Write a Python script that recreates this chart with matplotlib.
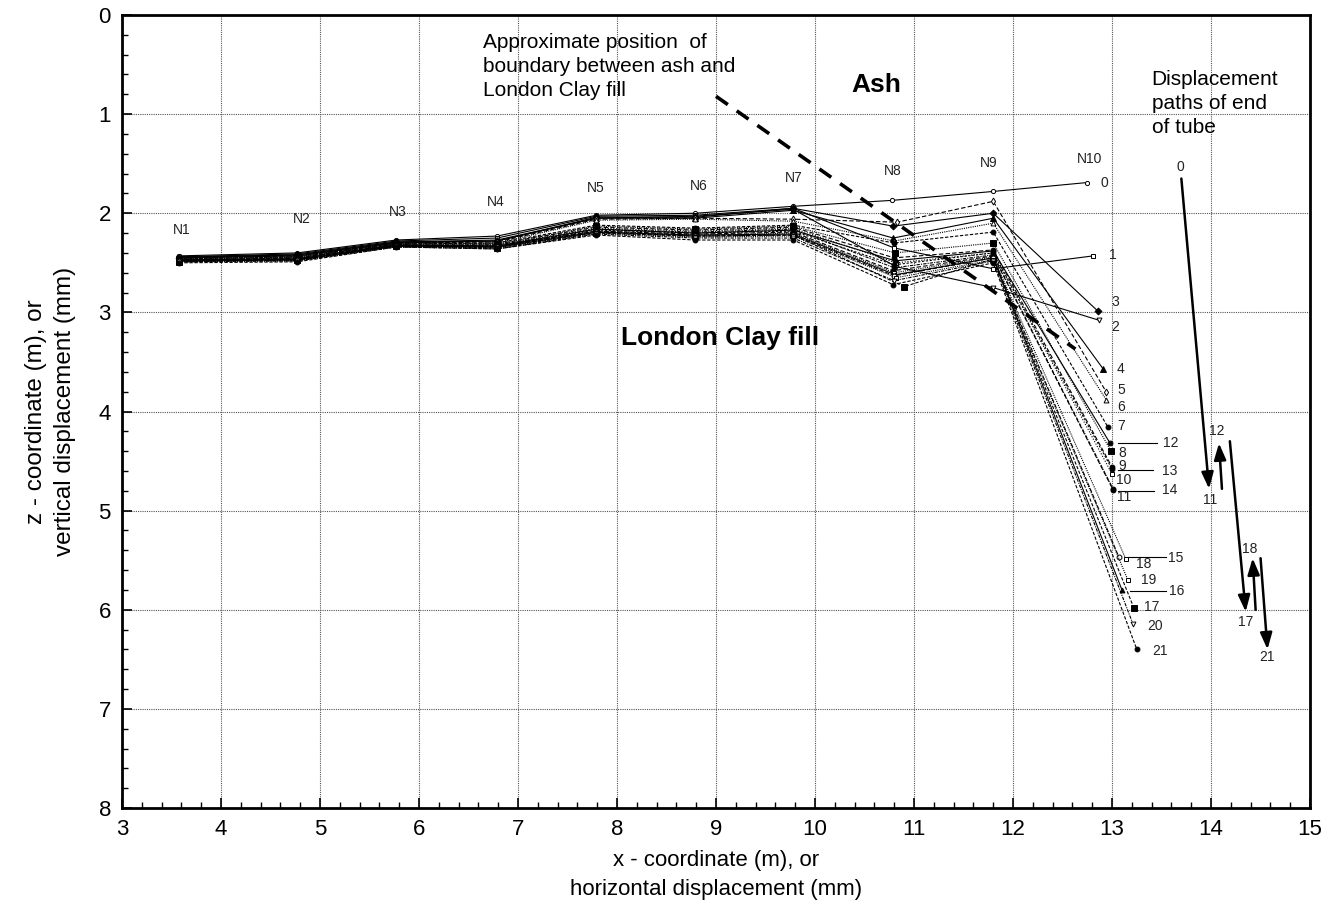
import matplotlib
matplotlib.use("Agg")
import matplotlib.pyplot as plt
from matplotlib.ticker import MultipleLocator

plt.rcParams['font.family'] = ['Liberation Sans', 'DejaVu Sans']

# ---------------- data ----------------
node_names = ["N1", "N2", "N3", "N4", "N5", "N6", "N7", "N8", "N9", "N10"]
node_x = [3.58, 4.77, 5.77, 6.79, 7.79, 8.79, 9.78, 10.80, 11.80]
node_label_x = [3.60, 4.82, 5.79, 6.78, 7.79, 8.83, 9.79, 10.79, 11.75, 12.77]
node_label_y = [2.17, 2.06, 1.99, 1.89, 1.75, 1.73, 1.64, 1.57, 1.49, 1.45]

series_ids = list(range(22))
x_n8 = [10.78, 10.80, 10.82, 10.79, 10.79, 10.83, 10.80, 10.80, 10.81, 10.80, 10.82,
        10.80, 10.81, 10.80, 10.79, 10.80, 10.81, 10.90, 10.80, 10.82, 10.80, 10.79]
x_end = [12.75, 12.81, 12.87, 12.86, 12.91, 12.94, 12.94, 12.96, 12.99, 13.00, 13.00,
         13.01, 12.98, 13.00, 13.01, 13.14, 13.10, 13.22, 13.07, 13.16, 13.21, 13.25]
s0 = [2.43, 2.40, 2.27, 2.23, 2.02, 2.00, 1.93, 1.87, 1.78, 1.69]
s1 = [2.44, 2.41, 2.28, 2.25, 2.03, 2.02, 1.95, 2.35, 2.56, 2.43]
s2 = [2.44, 2.42, 2.29, 2.27, 2.05, 2.03, 1.96, 2.54, 2.75, 3.08]
s3 = [2.45, 2.42, 2.29, 2.28, 2.04, 2.04, 1.95, 2.13, 2.00, 2.99]
s4 = [2.45, 2.43, 2.30, 2.28, 2.05, 2.05, 1.97, 2.25, 2.05, 3.57]
s5 = [2.45, 2.43, 2.30, 2.29, 2.06, 2.05, 2.06, 2.09, 1.88, 3.80]
s6 = [2.46, 2.44, 2.30, 2.30, 2.07, 2.06, 2.08, 2.28, 2.10, 3.88]
s7 = [2.46, 2.44, 2.31, 2.30, 2.12, 2.15, 2.12, 2.30, 2.19, 4.16]
s8 = [2.46, 2.44, 2.31, 2.31, 2.13, 2.16, 2.13, 2.40, 2.30, 4.40]
s9 = [2.47, 2.45, 2.31, 2.31, 2.14, 2.17, 2.14, 2.45, 2.37, 4.56]
s10 = [2.47, 2.45, 2.32, 2.32, 2.15, 2.18, 2.15, 2.50, 2.40, 4.63]
s11 = [2.47, 2.45, 2.32, 2.32, 2.16, 2.19, 2.16, 2.55, 2.42, 4.78]
s12 = [2.47, 2.46, 2.32, 2.33, 2.16, 2.20, 2.17, 2.48, 2.38, 4.32]
s13 = [2.48, 2.46, 2.32, 2.33, 2.17, 2.20, 2.18, 2.52, 2.40, 4.58]
s14 = [2.48, 2.46, 2.33, 2.33, 2.18, 2.21, 2.19, 2.58, 2.43, 4.79]
s15 = [2.48, 2.47, 2.33, 2.34, 2.18, 2.22, 2.20, 2.60, 2.44, 5.49]
s16 = [2.48, 2.47, 2.33, 2.34, 2.19, 2.22, 2.21, 2.62, 2.45, 5.80]
s17 = [2.49, 2.47, 2.33, 2.35, 2.20, 2.23, 2.22, 2.74, 2.46, 5.98]
s18 = [2.48, 2.47, 2.33, 2.34, 2.19, 2.23, 2.22, 2.63, 2.45, 5.47]
s19 = [2.49, 2.48, 2.34, 2.35, 2.20, 2.24, 2.23, 2.65, 2.47, 5.70]
s20 = [2.49, 2.48, 2.34, 2.36, 2.21, 2.25, 2.25, 2.68, 2.48, 6.14]
s21 = [2.50, 2.49, 2.34, 2.36, 2.22, 2.27, 2.27, 2.72, 2.50, 6.40]
series_y = [s0, s1, s2, s3, s4, s5, s6, s7, s8, s9, s10, s11, s12, s13, s14,
            s15, s16, s17, s18, s19, s20, s21]

# end labels (series id text, position)
end_label_text = ["0", "1", "3", "2", "4", "5", "6", "7", "8", "9", "10", "11",
                  "12", "13", "14", "15", "18", "19", "16", "17", "20", "21"]
end_label_x = [12.92, 13.01, 13.03, 13.03, 13.09, 13.09, 13.09, 13.09, 13.10, 13.10, 13.12, 13.12,
               13.59, 13.58, 13.58, 13.64, 13.32, 13.37, 13.65, 13.40, 13.43, 13.48]
end_label_y = [1.69, 2.42, 2.90, 3.15, 3.57, 3.78, 3.95, 4.15, 4.42, 4.55, 4.69, 4.86,
               4.32, 4.60, 4.79, 5.48, 5.54, 5.70, 5.81, 5.97, 6.16, 6.42]
# leader lines for labels 12, 13, 14, 15, 16
leader_x0 = [13.06, 13.06, 13.06, 13.15, 13.18]
leader_x1 = [13.45, 13.41, 13.42, 13.54, 13.54]
leader_y = [4.32, 4.59, 4.80, 5.47, 5.81]

# displacement paths of end of tube (arrows)
path_x0 = [13.70, 14.11, 14.19, 14.45, 14.50]
path_y0 = [1.65, 4.78, 4.30, 6.00, 5.48]
path_x1 = [13.98, 14.08, 14.35, 14.42, 14.57]
path_y1 = [4.78, 4.32, 6.02, 5.48, 6.40]
path_label_text = ["0", "11", "12", "17", "18", "21"]
path_label_x = [13.69, 13.99, 14.06, 14.35, 14.39, 14.57]
path_label_y = [1.53, 4.89, 4.20, 6.12, 5.39, 6.48]

# approximate ash / clay boundary
boundary_x = [9.00, 12.63]
boundary_y = [0.82, 3.37]

# ---------------- styles ----------------
markers = ['o', 's', 'v', 'D', '^', 'd', '^', 'o', 's', 'o', 's', 'o',
           'o', 'o', 'o', 's', '^', 's', 'o', 's', 'v', 'o']
filled = [False, False, False, True, True, False, False, True, True, True, False, True,
          True, True, True, False, True, True, False, False, False, True]
lstyles = ['-', '-', '-', '-', '-', (0, (4, 2)), (0, (1, 1)), (0, (3, 1.5)), (0, (1, 1)),
           (0, (4, 2)), (0, (1, 1.5)), (0, (3, 1, 1, 1)), '-', (0, (2, 1.5)), (0, (4, 2)),
           (0, (1, 1)), '-', (0, (3, 1.5)), (0, (4, 1.5)), (0, (1, 1)), (0, (3, 1, 1, 1)),
           (0, (3, 1.5))]
msizes = [3, 3.5, 3.5, 3.5, 4, 3.5, 3.5, 3.5, 4.5, 3.5, 3.5, 3.5,
          3.5, 3.5, 3.5, 3.5, 3.5, 4.5, 3.5, 3.5, 3.5, 3.5]

fig = plt.figure(figsize=(13.42, 9.09), dpi=100)
ax = fig.add_axes([0.0909, 0.1111, 0.8853, 0.8724])

for i in series_ids:
    xs = node_x[:7] + [x_n8[i], node_x[8], x_end[i]]
    ys = series_y[i]
    ax.plot(xs, ys, color='black', lw=0.8, linestyle=lstyles[i],
            marker=markers[i], ms=msizes[i],
            mfc='black' if filled[i] else 'white', mec='black', mew=0.7, zorder=3)

# boundary
ax.plot(boundary_x, boundary_y, color='black', lw=2.6, linestyle=(0, (4, 3)), zorder=4)

# node labels
for name, lx, ly in zip(node_names, node_label_x, node_label_y):
    ax.text(lx, ly, name, fontsize=10, ha='center', va='center', color='#222222')

# end labels
for t, lx, ly in zip(end_label_text, end_label_x, end_label_y):
    ax.text(lx, ly, t, fontsize=10, ha='center', va='center', color='#222222')
for x0, x1, y in zip(leader_x0, leader_x1, leader_y):
    ax.plot([x0, x1], [y, y], color='black', lw=0.8)

# arrows
for x0, y0, x1, y1 in zip(path_x0, path_y0, path_x1, path_y1):
    ax.annotate('', xy=(x1, y1), xytext=(x0, y0),
                arrowprops=dict(arrowstyle='-|>,head_length=0.55,head_width=0.2',
                                color='black', lw=1.8,
                                mutation_scale=18, shrinkA=0, shrinkB=0))
for t, lx, ly in zip(path_label_text, path_label_x, path_label_y):
    ax.text(lx, ly, t, fontsize=10, ha='center', va='center', color='#222222')

# annotations
ax.text(6.65, 0.52, "Approximate position  of\nboundary between ash and\nLondon Clay fill",
        fontsize=15, ha='left', va='center', linespacing=1.32)
ax.text(10.62, 0.71, "Ash", fontsize=19, fontweight='bold', ha='center', va='center')
ax.text(9.04, 3.26, "London Clay fill", fontsize=19, fontweight='bold', ha='center', va='center')
ax.text(13.40, 0.895, "Displacement\npaths of end\nof tube", fontsize=15, ha='left',
        va='center', linespacing=1.32)

# axes
ax.set_xlim(3, 15)
ax.set_ylim(8, 0)
ax.xaxis.set_major_locator(MultipleLocator(1))
ax.xaxis.set_minor_locator(MultipleLocator(0.2))
ax.yaxis.set_major_locator(MultipleLocator(1))
ax.yaxis.set_minor_locator(MultipleLocator(0.2))
ax.grid(True, which='major', color='#555555', linestyle=(0, (1, 1)), lw=0.8)
ax.tick_params(which='both', direction='in', labelsize=16)
ax.tick_params(which='major', length=7, width=1.2, pad=8)
ax.tick_params(which='minor', length=4, width=1.0)
for sp in ax.spines.values():
    sp.set_linewidth(2)

ax.set_xlabel("x - coordinate (m), or\nhorizontal displacement (mm)", fontsize=16,
              labelpad=7, linespacing=1.5)
ax.set_ylabel("z - coordinate (m), or\nvertical displacement (mm)", fontsize=17.5,
              labelpad=16, linespacing=1.45)

fig.savefig("out.png", dpi=100)
